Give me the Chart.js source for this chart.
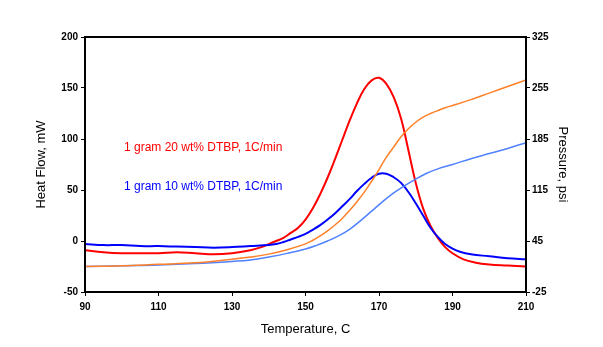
<!DOCTYPE html>
<html>
<head>
<meta charset="utf-8">
<script src="https://cdn.jsdelivr.net/npm/chart.js@4.4.1/dist/chart.umd.min.js"></script>
<style>
  body { margin: 0; background: #fff; }
  #wrap { width: 603px; height: 347px; }
</style>
</head>
<body>
<div id="wrap"><canvas id="Chart"></canvas></div>
<script>
// heat flow, 20 wt% DTBP (mW)
const redTemps = [90, 95, 100, 105, 110, 115, 120, 125, 130, 135, 138, 140, 142, 144, 146, 148, 150, 152, 154, 156, 158, 160, 162, 164, 166, 168, 170, 172, 174, 176, 178, 180, 182, 184, 186, 188, 190, 193, 196, 200, 205, 210];
const redHeat = [-9, -11, -12, -12, -12, -11, -12, -13, -12, -9, -6, -3, 0, 3, 8, 13, 21, 32, 46, 62, 80, 99, 118, 135, 149, 157.5, 160, 154, 141, 120, 89, 57, 32, 15, 3, -6, -12, -18, -21, -23, -24, -25];

// heat flow, 10 wt% DTBP (mW)
const blueTemps = [90, 95, 100, 105, 110, 115, 120, 125, 130, 135, 140, 142, 144, 146, 148, 150, 152, 154, 156, 158, 160, 162, 164, 166, 168, 170, 172, 174, 176, 178, 180, 182, 184, 186, 188, 190, 192, 195, 200, 205, 210];
const blueHeat = [-3, -4, -4, -5, -5, -5.5, -6, -6.5, -6, -5, -4, -3, -1, 1.5, 4, 7, 11, 15.5, 21, 27, 34, 41, 49, 56, 62, 66, 66, 62.5, 57, 48, 37, 25, 13, 4, -3, -7.5, -10.5, -13, -15, -17, -18];

// pressure, 20 wt% DTBP (psi)
const orangeTemps = [90, 100, 110, 120, 130, 135, 140, 145, 150, 152, 154, 156, 158, 160, 162, 164, 166, 168, 170, 172, 174, 176, 178, 180, 182, 184, 186, 188, 190, 195, 200, 205, 210];
const orangePress = [10, 11, 13, 15, 20, 23, 27, 33, 41, 46, 52, 59, 67, 76, 87, 99, 112, 127, 143, 160, 174, 188, 199, 208, 215, 220, 224, 228, 231, 239, 248, 257, 266];

// pressure, 10 wt% DTBP (psi)
const lightTemps = [90, 100, 110, 120, 130, 135, 140, 145, 150, 153, 156, 159, 162, 165, 168, 171, 174, 177, 180, 183, 186, 190, 195, 200, 205, 210];
const lightPress = [10, 11, 12, 14, 17, 19, 23, 28, 34, 39, 45, 52, 61, 73, 86, 99, 111, 121, 130, 138, 144, 150, 158, 165, 172, 180];

const labels = ['1 gram 20 wt% DTBP, 1C/min', '1 gram 10 wt% DTBP, 1C/min'];

const pts = (xs, ys) => xs.map((x, i) => ({ x: x, y: ys[i] }));

const tickFont = { family: 'Liberation Sans, Arial, sans-serif', size: 10, weight: 'bold' };
const titleFont = { family: 'Liberation Sans, Arial, sans-serif', size: 13 };

// plot frame + in-chart notes
const framePlugin = {
    id: 'frame',
    afterDatasetsDraw(chart) {
        const { ctx, chartArea: a, scales } = chart;
        ctx.save();
        ctx.strokeStyle = '#000';
        ctx.lineWidth = 2;
        ctx.strokeRect(a.left, a.top, a.right - a.left, a.bottom - a.top);
        ctx.font = '12px "Liberation Sans", Arial, sans-serif';
        ctx.textBaseline = 'middle';
        ctx.fillStyle = '#ff0000';
        ctx.fillText(labels[0], scales.x.getPixelForValue(100.6), scales.y.getPixelForValue(91));
        ctx.fillStyle = '#0000ff';
        ctx.fillText(labels[1], scales.x.getPixelForValue(100.6), scales.y.getPixelForValue(53));
        ctx.restore();
    }
};

new Chart(document.getElementById('Chart'), {
    type: 'line',
    data: {
        datasets: [{
            data: pts(orangeTemps, orangePress),
            borderColor: '#ff8028',
            borderWidth: 1.5,
            yAxisID: 'y1'
        }, {
            data: pts(lightTemps, lightPress),
            borderColor: '#5082ff',
            borderWidth: 1.5,
            yAxisID: 'y1'
        }, {
            data: pts(blueTemps, blueHeat),
            borderColor: '#0000ff',
            borderWidth: 2,
            yAxisID: 'y'
        }, {
            data: pts(redTemps, redHeat),
            borderColor: '#ff0000',
            borderWidth: 2,
            yAxisID: 'y'
        }]
    },
    options: {
        responsive: true,
        maintainAspectRatio: false,
        animation: false,
        elements: {
            point: { radius: 0 },
            line: { tension: 0.4 }
        },
        layout: { padding: { top: 37, left: 30, right: 29, bottom: 6 } },
        plugins: {
            legend: { display: false },
            tooltip: { enabled: false }
        },
        scales: {
            x: {
                type: 'linear',
                min: 90,
                max: 210,
                afterFit: s => { s.height = 49; },
                ticks: { stepSize: 20, color: '#000', font: tickFont, padding: 5, maxRotation: 0 },
                grid: { drawOnChartArea: false, color: '#000', tickLength: 4 },
                border: { display: false },
                title: { display: true, text: 'Temperature, C', color: '#000', font: titleFont }
            },
            y: {
                position: 'left',
                min: -50,
                max: 200,
                afterFit: s => { s.width = 55; },
                ticks: { stepSize: 50, color: '#000', font: tickFont, padding: 3 },
                grid: { drawOnChartArea: false, color: '#000', tickLength: 4 },
                border: { display: false },
                title: { display: true, text: 'Heat Flow, mW', color: '#000', font: titleFont }
            },
            y1: {
                position: 'right',
                min: -25,
                max: 325,
                afterFit: s => { s.width = 48; },
                ticks: { stepSize: 70, color: '#000', font: tickFont, padding: 2 },
                grid: { drawOnChartArea: false, color: '#000', tickLength: 4 },
                border: { display: false },
                title: { display: true, text: 'Pressure, psi', color: '#000', font: titleFont }
            }
        }
    },
    plugins: [framePlugin]
});
</script>
</body>
</html>
